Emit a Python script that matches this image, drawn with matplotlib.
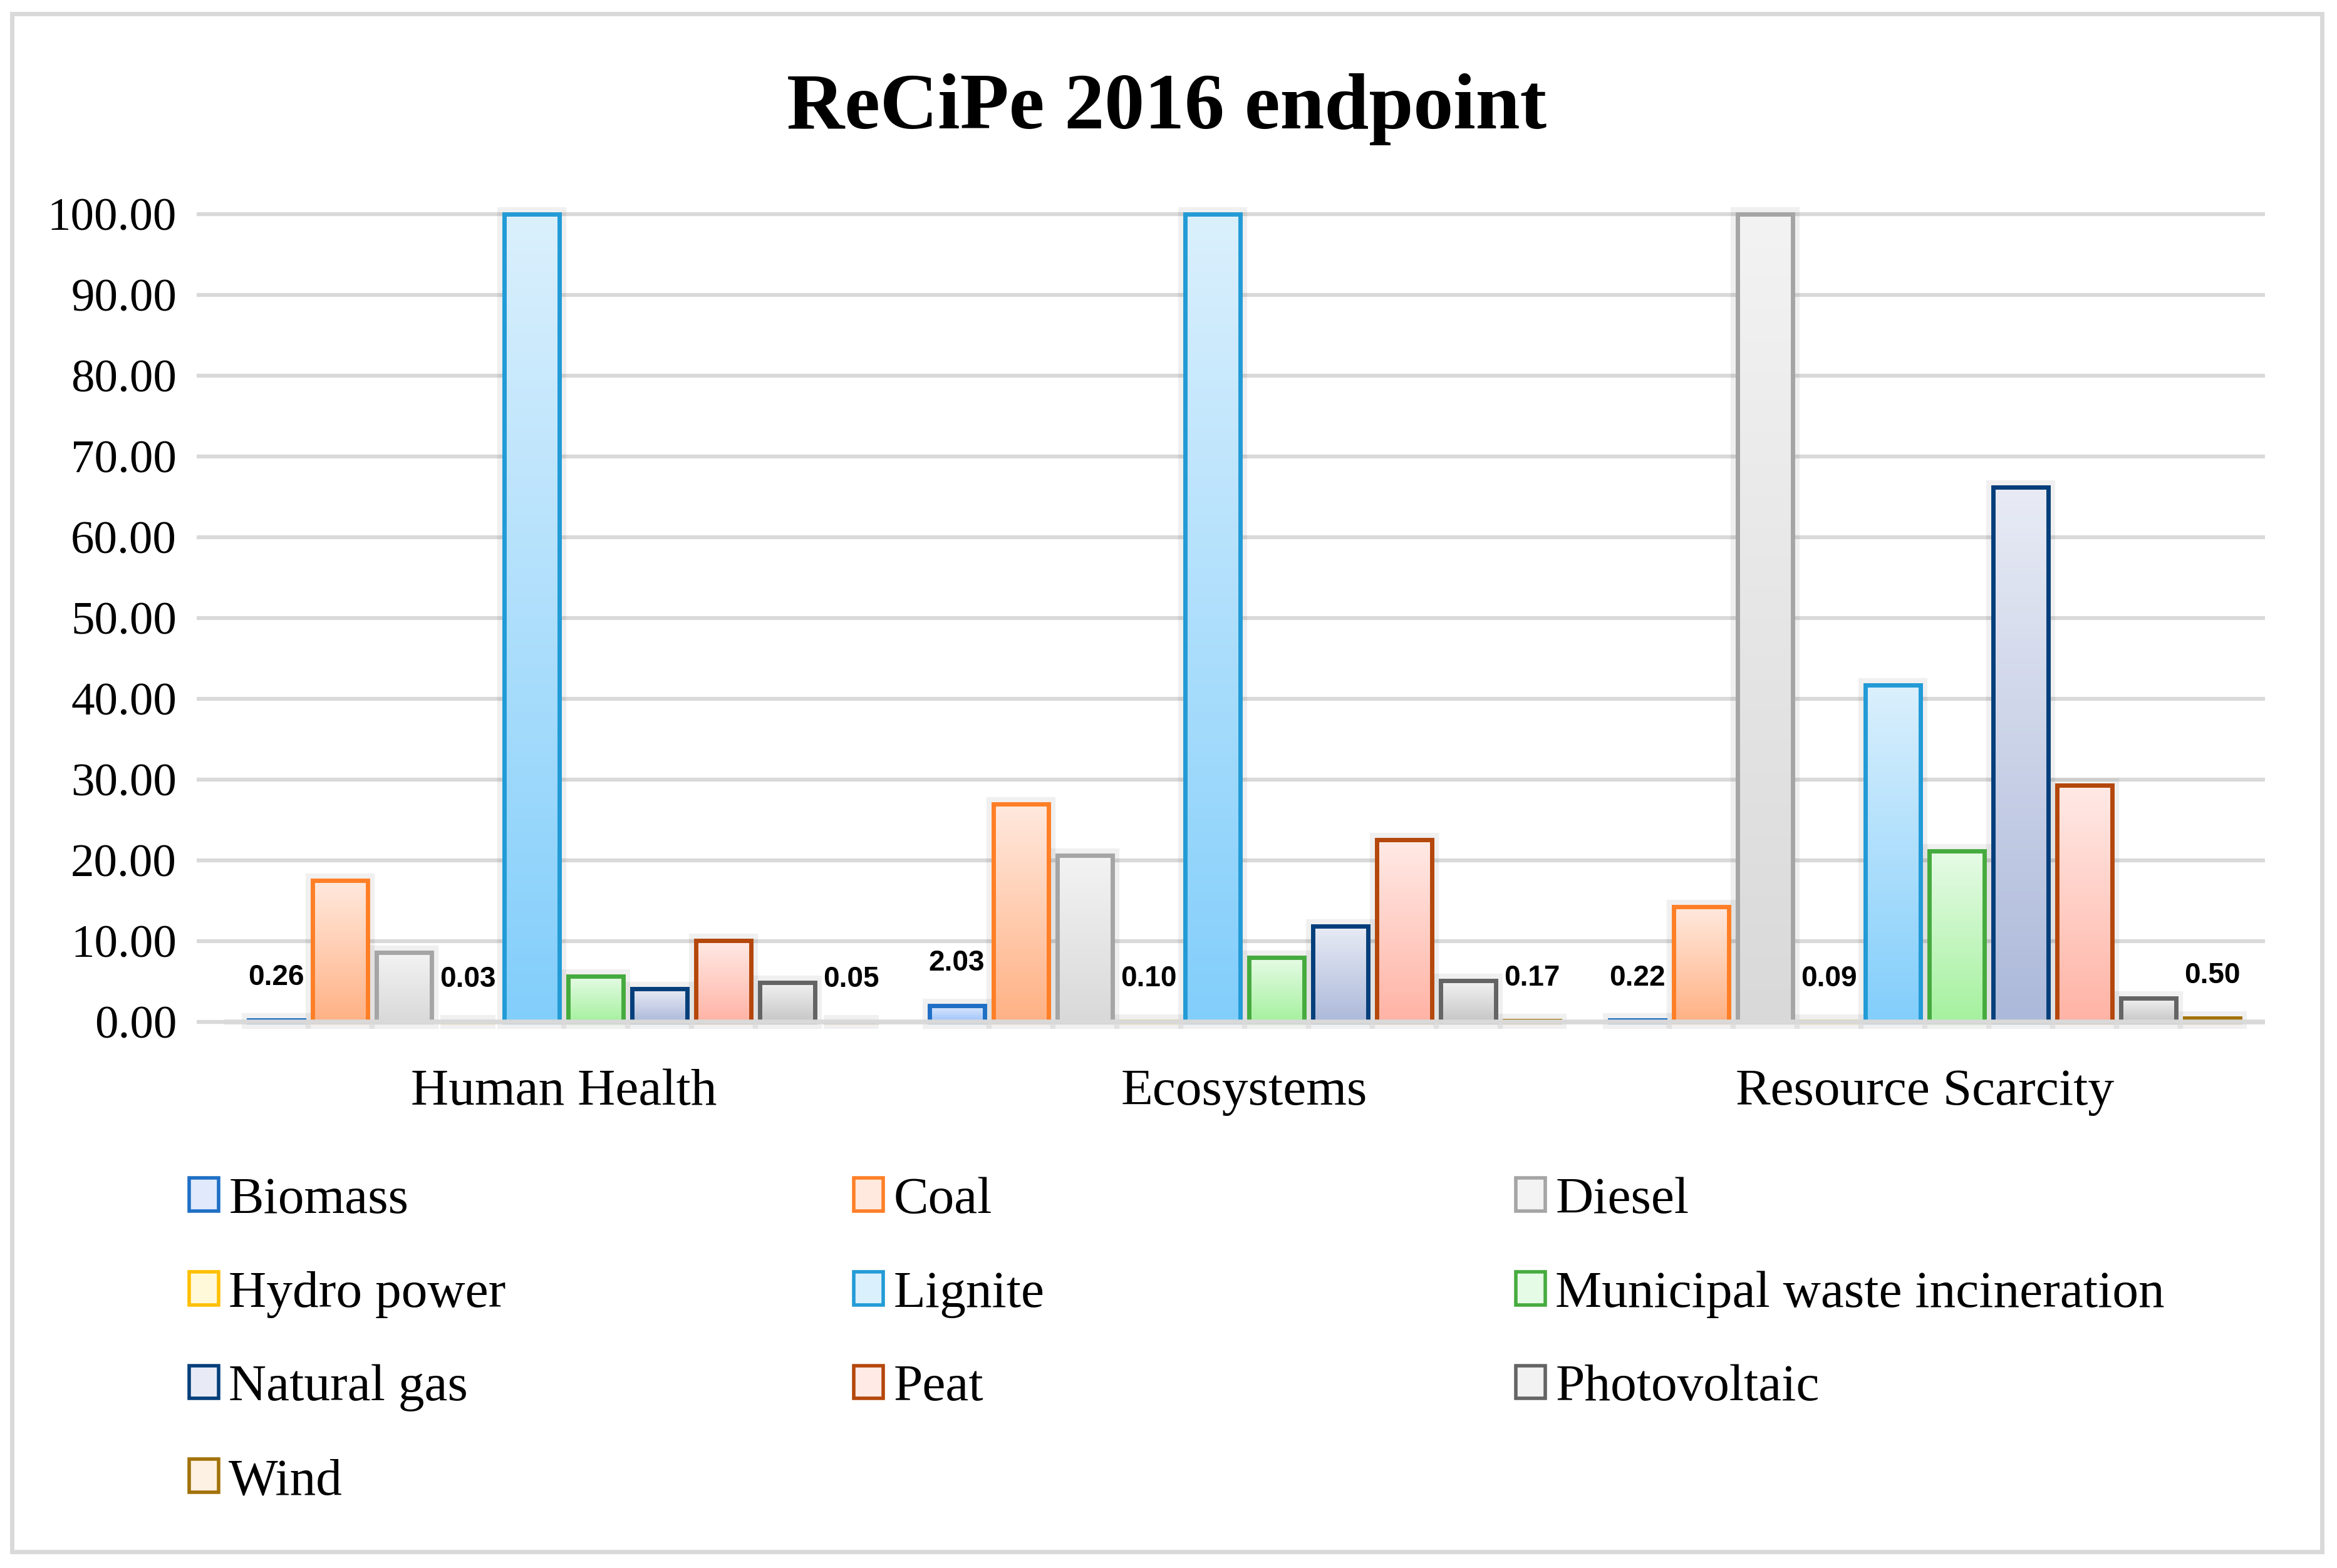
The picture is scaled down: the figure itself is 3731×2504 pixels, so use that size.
import matplotlib
matplotlib.use("Agg")
from matplotlib import pyplot as plt
from matplotlib.patches import Patch, Rectangle
from matplotlib.colors import LinearSegmentedColormap
import numpy as np

categories = ['Human Health', 'Ecosystems', 'Resource Scarcity']
sources = ['Biomass', 'Coal', 'Diesel', 'Hydro power', 'Lignite',
           'Municipal waste incineration', 'Natural gas', 'Peat', 'Photovoltaic', 'Wind']

biomass = [0.26, 2.03, 0.22]
coal = [17.5, 27.0, 14.3]
diesel = [8.6, 20.6, 100.0]
hydro = [0.03, 0.10, 0.09]
lignite = [100.0, 100.0, 41.7]
waste = [5.7, 8.0, 21.2]
natural_gas = [4.1, 11.9, 66.2]
peat = [10.1, 22.6, 29.3]
photovoltaic = [4.9, 5.1, 3.0]
wind = [0.05, 0.17, 0.50]
values = [biomass, coal, diesel, hydro, lignite, waste, natural_gas, peat, photovoltaic, wind]

# only the tiny ones get a number on top
labelled = ['Biomass', 'Hydro power', 'Wind']

edges = ['#1F6FC5', '#FF7F27', '#A5A5A5', '#FFC000', '#229BD6',
         '#46AB3F', '#053F7B', '#B4470B', '#646464', '#A27209']
tops = ['#E0EAFC', '#FFE9DE', '#F3F3F3', '#FFF9DA', '#DBF0FD',
        '#E6FBE6', '#E8EBF5', '#FFEAE6', '#F2F2F2', '#FCF1E3']
bottoms = ['#9CC2FB', '#FFB184', '#D9D9D9', '#FFED94', '#82CEFB',
           '#A5F19E', '#ACB9DA', '#FFB3A5', '#C6C6C6', '#F4CDA5']

serif = ['Liberation Serif', 'DejaVu Serif']
grid_col = '#D9D9D9'

fig = plt.figure(figsize=(37.31, 25.04), dpi=100)
fig.patches.append(Rectangle((0.0051, 0.0104), 0.9885, 0.9808, transform=fig.transFigure,
                             fill=False, edgecolor=grid_col, linewidth=5, zorder=0))

ax = fig.add_axes([0.0957, 0.3430, 0.9692 - 0.0957, 0.8738 - 0.3430])

x = np.arange(len(categories))
slot = 0.0939
width = 0.081
grad = np.linspace(0, 1, 256).reshape(-1, 1)

handles = []
for i, (name, vals) in enumerate(zip(sources, values)):
    pos = x + (i - 4.5) * slot
    # soft halo standing in for the excel shadow
    ax.bar(pos, vals, width, facecolor='none', edgecolor='#000000', alpha=0.06,
           linewidth=16, zorder=2)
    bars = ax.bar(pos, vals, width, facecolor='none', edgecolor=edges[i],
                  linewidth=5, zorder=4, label=name)
    cmap = LinearSegmentedColormap.from_list(name, [bottoms[i], tops[i]])
    for rect in bars:
        x0, _ = rect.get_xy()
        im = ax.imshow(grad, extent=[x0, x0 + rect.get_width(), 0, rect.get_height()],
                       aspect='auto', cmap=cmap, origin='lower', zorder=3,
                       interpolation='bilinear')
        im.set_clip_path(rect)
    if name in labelled:
        ax.bar_label(bars, labels=[f'{v:.2f}' for v in vals], padding=33,
                     fontsize=33, fontweight='bold', family=['Liberation Sans', 'DejaVu Sans'])
    handles.append(Patch(facecolor=tops[i], edgecolor=edges[i], linewidth=4, label=name))

ax.set_xlim(-0.5, 2.5)
ax.set_ylim(-1, 102)
ax.set_yticks(np.arange(0, 101, 10))
ax.set_yticklabels([f'{v:.2f}' for v in np.arange(0, 101, 10)], family=serif, fontsize=54)
ax.set_xticks(x)
ax.set_xticklabels(categories, family=serif, fontsize=60)
ax.tick_params(axis='x', length=0, pad=44)
ax.tick_params(axis='y', length=31, width=4.5, color=grid_col, pad=23)
ax.set_axisbelow(True)
ax.yaxis.grid(True, color=grid_col, linewidth=4.5)
ax.axhline(0, color=grid_col, linewidth=5.5, zorder=5)
for s in ax.spines.values():
    s.set_visible(False)

fig.text(0.4993, 0.9305, 'ReCiPe 2016 endpoint', ha='center', va='center',
         family=serif, fontsize=92, fontweight='bold')

# legend filled row by row, one legend per column
col_x = [0.0809, 0.3653, 0.6486]
for c in range(3):
    fig.legend(handles=handles[c::3], loc='upper left', bbox_to_anchor=(col_x[c], 0.2494),
               frameon=False, prop={'family': serif, 'size': 60},
               handlelength=0.56, handleheight=0.6, handletextpad=0.2,
               labelspacing=0.89, borderpad=0, borderaxespad=0)

fig.savefig('out.png', dpi=100, facecolor='white')
